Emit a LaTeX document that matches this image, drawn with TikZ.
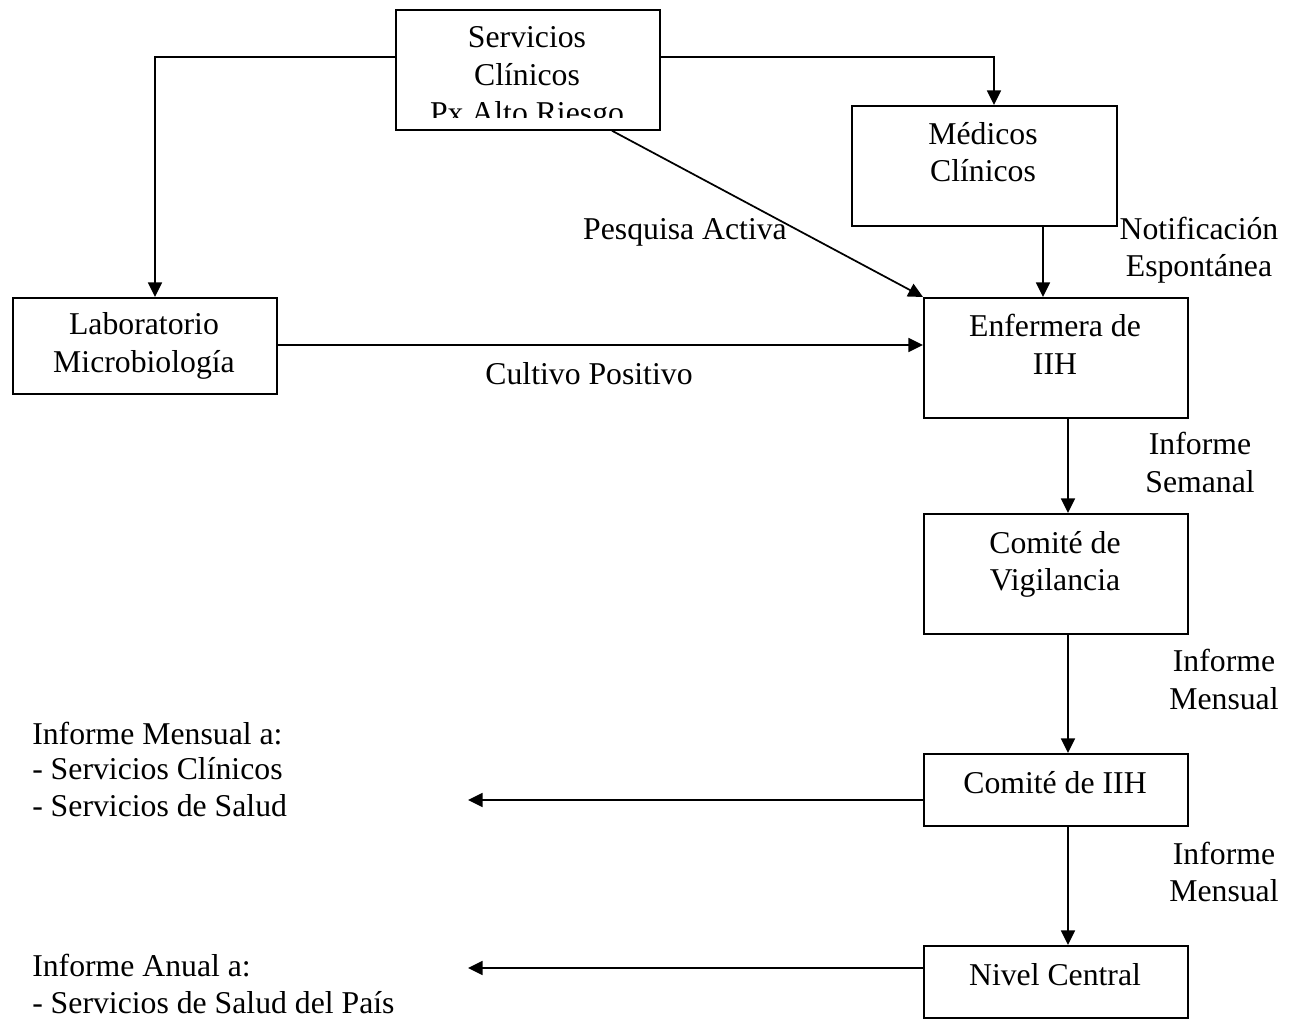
\documentclass[tikz,border=0pt]{standalone}
\usepackage{fontspec}
\setmainfont{Liberation Serif}
\usetikzlibrary{arrows.meta,calc}
\begin{document}
\begin{tikzpicture}[x=0.75pt,y=-0.75pt,
  box/.style={draw, line width=1.3pt, rectangle, inner sep=0pt, anchor=north west, minimum width=198pt},
  t/.style={anchor=base, inner sep=0pt, font=\fontsize{23.8}{28}\selectfont},
  tl/.style={t, anchor=base west},
  arr/.style={-{Triangle[length=11pt,width=10.5pt]}, line width=1.3pt}]
\useasboundingbox (0,0) rectangle (1293,1023);
% boxes
\node[box, minimum height=90pt] (top) at (395,9) {};
\node[box, minimum height=90pt, minimum width=198.75pt] (med) at (851,105) {};
\node[box, minimum height=90pt] (enf) at (923,297) {};
\node[box, minimum height=72pt] (lab) at (12,297) {};
\node[box, minimum height=90pt] (vig) at (923,513) {};
\node[box, minimum height=54pt] (iih) at (923,753) {};
\node[box, minimum height=54pt] (niv) at (923,945) {};
% box texts
\begin{scope}
\clip (396,10) rectangle (658,118);
\node[t] (top1) at (527,48) {Servicios};
\node[t] (top2) at (527,86) {Clínicos};
\node[t] (top3) at (527,124) {Px Alto Riesgo};
\end{scope}
\node[t] (med1) at (983,145) {Médicos};
\node[t] (med2) at (983,182) {Clínicos};
\node[t] (enf1) at (1055,337) {Enfermera de};
\node[t] (enf2) at (1055,375) {IIH};
\node[t] (lab1) at (144,335) {Laboratorio};
\node[t] (lab2) at (144,373) {Microbiología};
\node[t] (vig1) at (1055,553) {Comité de};
\node[t] (vig2) at (1055,590) {Vigilancia};
\node[t] (iih1) at (1055,793) {Comité de IIH};
\node[t] (niv1) at (1055,985) {Nivel Central};
% labels
\node[t] (not1) at (1199,240) {Notificación};
\node[t] (not2) at (1199,277) {Espontánea};
\node[t] (pes) at (685,240) {Pesquisa Activa};
\node[t] (cul) at (589,385) {Cultivo Positivo};
\node[t] (sem1) at (1200,455) {Informe};
\node[t] (sem2) at (1200,493) {Semanal};
\node[t] (men1) at (1224,671) {Informe};
\node[t] (men2) at (1224,709) {Mensual};
\node[t] (men3) at (1224,864) {Informe};
\node[t] (men4) at (1224,901) {Mensual};
\node[tl] (lm1) at (32,744) {Informe Mensual a:};
\node[tl] (lm2) at (32,779) {- Servicios Clínicos};
\node[tl] (lm3) at (32,816) {- Servicios de Salud};
\node[tl] (la1) at (32,976) {Informe Anual a:};
\node[tl] (la2) at (32,1013) {- Servicios de Salud del País};
% connectors
\coordinate (c1) at (468,800);
\coordinate (c2) at (468,968);
\draw[arr] ($(top.north west)+(0,48)$) -| ($(lab.north west)+(143,0)$);
\draw[arr] ($(top.north east)+(0,48)$) -| ($(med.north west)+(143,0)$);
\draw[arr] ($(med.south west)+(192,0)$) -- ($(enf.north west)+(120,0)$);
\draw[arr] ($(top.south west)+(217,0)$) -- (enf.north west);
\draw[arr] ($(lab.north east)+(0,48)$) -- ($(enf.north west)+(0,48)$);
\draw[arr] ($(enf.south west)+(145,0)$) -- ($(vig.north west)+(145,0)$);
\draw[arr] ($(vig.south west)+(145,0)$) -- ($(iih.north west)+(145,0)$);
\draw[arr] ($(iih.south west)+(145,0)$) -- ($(niv.north west)+(145,0)$);
\draw[arr] ($(iih.north west)+(0,47)$) -- (c1);
\draw[arr] ($(niv.north west)+(0,23)$) -- (c2);
\end{tikzpicture}
\end{document}
